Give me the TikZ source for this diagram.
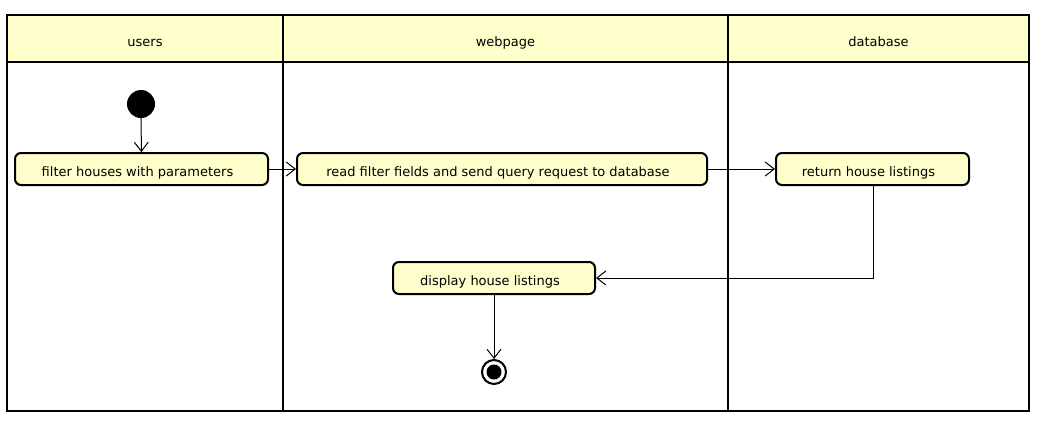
\documentclass[tikz,border=0pt]{standalone}
\usepackage{fontspec}
\setmainfont{DejaVu Sans}
\usetikzlibrary{arrows.meta}
\definecolor{lemon}{HTML}{FFFFCC}
\begin{document}
\begin{tikzpicture}[x=1pt,y=-1pt,
  act/.style={draw=black, line width=2pt, fill=lemon, rounded corners=6pt, minimum height=32pt, inner sep=0pt, text height=14pt, text depth=0pt, font=\fontsize{13}{15}\selectfont, execute at begin node={\hspace*{-8pt}}},
  lanehead/.style={draw=black, line width=2pt, fill=lemon, inner sep=0pt, text height=15pt, text depth=0pt, font=\fontsize{13}{15}\selectfont},
  flow/.style={line width=1pt, -{Straight Barb[length=9pt,width=14pt,line width=1pt]}}
]
\useasboundingbox (0,0) rectangle (1041,421);
% lanes
\draw[line width=2pt] (7,15) rectangle (1029,411);
\node[lanehead, minimum width=276pt, minimum height=47pt] (hu) at (145,38.5) {users};
\node[lanehead, minimum width=445pt, minimum height=47pt] (hw) at (505.5,38.5) {webpage};
\node[lanehead, minimum width=301pt, minimum height=47pt] (hd) at (878.5,38.5) {database};
\draw[line width=2pt] (283,15) -- (283,411);
\draw[line width=2pt] (728,15) -- (728,411);
% nodes
\node[circle, fill=black, minimum size=28pt, inner sep=0pt] (start) at (141,104) {};
\node[act, minimum width=253pt] (a1) at (141.5,169) {filter houses with parameters};
\node[act, minimum width=410pt] (a2) at (502,169) {read filter fields and send query request to database};
\node[act, minimum width=193pt] (a3) at (872.5,169) {return house listings};
\node[act, minimum width=202pt] (a4) at (494,278) {display house listings};
\node[circle, draw=black, line width=2pt, fill=white, minimum size=24pt, inner sep=0pt] (end) at (494,372) {};
\node[circle, fill=black, minimum size=15pt, inner sep=0pt] (endin) at (end.center) {};
% flows
\draw[flow] (start) -- (a1);
\draw[flow] (a1) -- (a2);
\draw[flow] (a2) -- (a3);
\draw[flow] (a3.south -| 873,0) |- (a4.east);
\draw[flow] (a4) -- (end);
\end{tikzpicture}
\end{document}
